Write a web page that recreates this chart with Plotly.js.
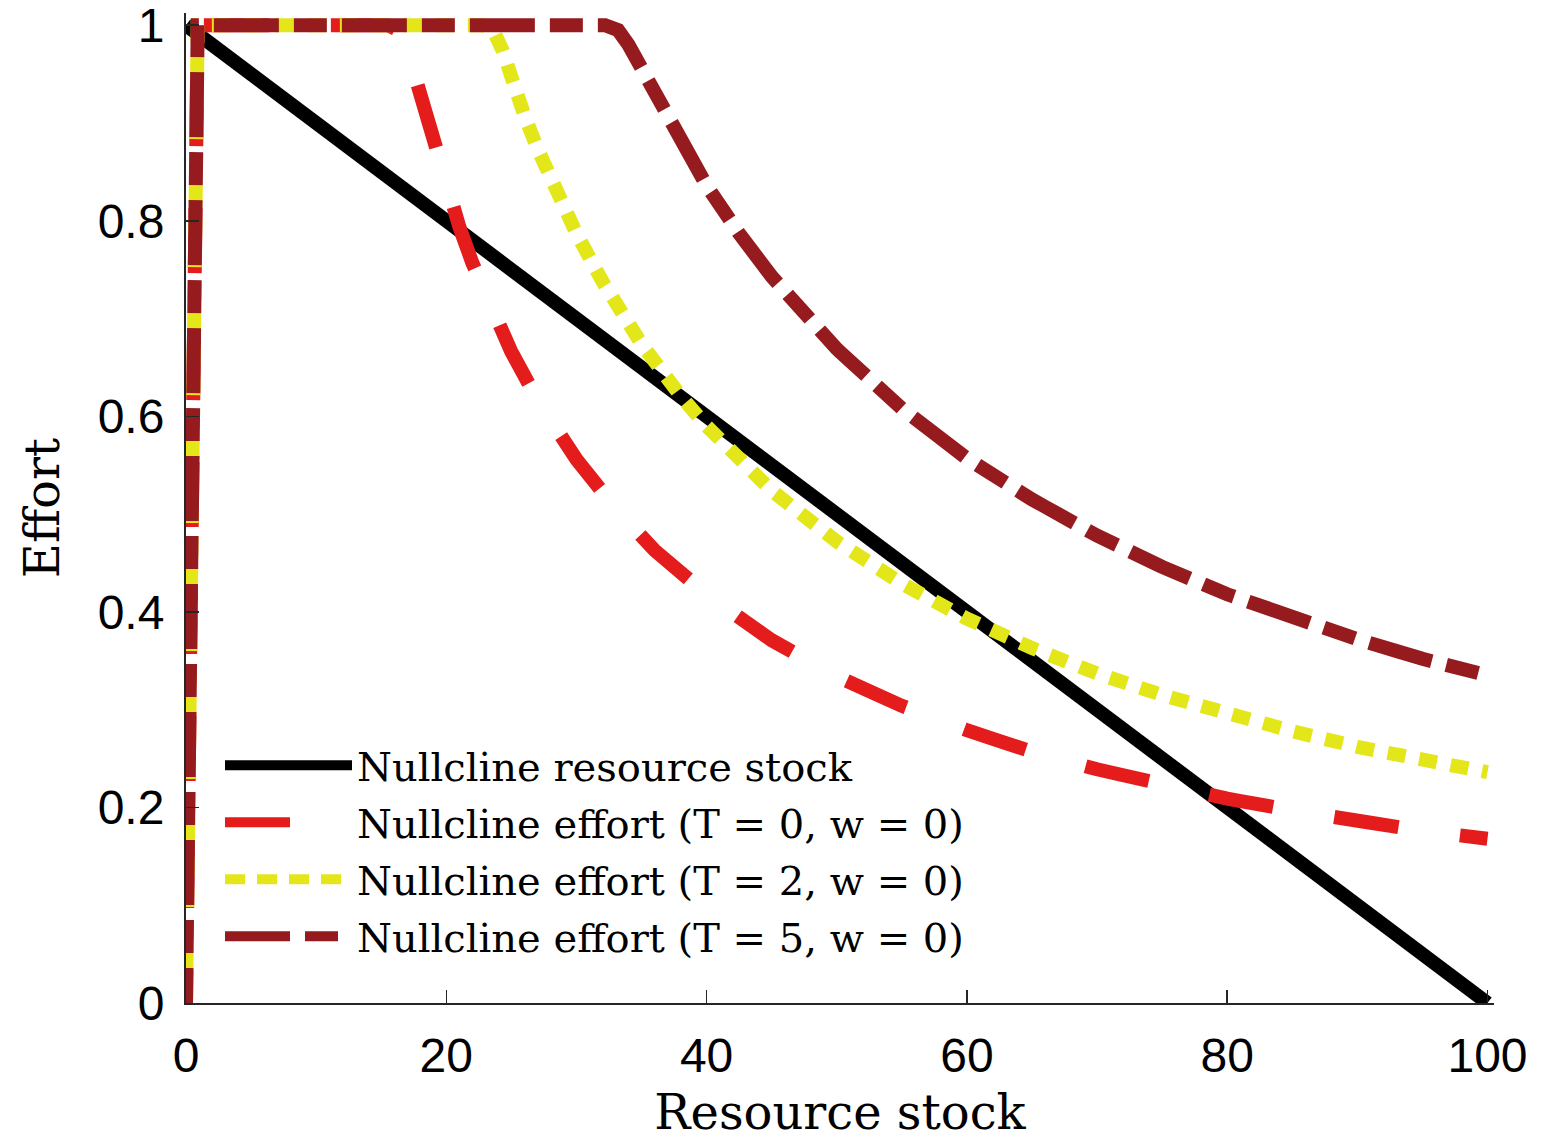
<!DOCTYPE html>
<html>
<head>
<meta charset="utf-8">
<script src="https://cdn.plot.ly/plotly-3.0.1.min.js"></script>
<style>html,body{margin:0;padding:0;background:#fff;}#chart{width:1558px;height:1140px;}</style>
</head>
<body>
<div id="chart"></div>
<script>
// Nullcline resource stock
const stockX = [0, 100];
const stockE = [1, 0];

// Nullcline effort (T = 0, w = 0)
const t0X = [0, 0.9, 15.5, 16.3, 17, 17.5, 18, 19, 20, 21, 22, 23.5, 25, 27, 30, 33, 36, 40, 45, 50, 55, 60, 65, 70, 75, 80, 85, 90, 95, 100];
const t0E = [0, 1, 1, 0.995, 0.975, 0.952, 0.925, 0.877, 0.833, 0.794, 0.757, 0.709, 0.666, 0.617, 0.556, 0.506, 0.463, 0.418, 0.371, 0.334, 0.304, 0.279, 0.257, 0.239, 0.223, 0.209, 0.197, 0.186, 0.176, 0.168];

// Nullcline effort (T = 2, w = 0)
const t2X = [0, 0.9, 22.8, 23.6, 24.3, 25, 26, 27, 28, 30, 32, 35, 38, 40, 45, 50, 55, 60, 65, 70, 75, 80, 85, 90, 95, 100];
const t2E = [0, 1, 1, 0.995, 0.975, 0.945, 0.908, 0.874, 0.843, 0.787, 0.738, 0.674, 0.621, 0.59, 0.524, 0.472, 0.429, 0.393, 0.363, 0.337, 0.315, 0.295, 0.278, 0.262, 0.248, 0.236];

// Nullcline effort (T = 5, w = 0)
const t5X = [0, 0.9, 32.2, 33.2, 34, 35, 36, 37, 38, 40, 42.5, 45, 50, 55, 60, 65, 70, 75, 80, 85, 90, 95, 100];
const t5E = [0, 1, 1, 0.995, 0.98, 0.955, 0.93, 0.905, 0.88, 0.836, 0.787, 0.743, 0.669, 0.608, 0.557, 0.515, 0.478, 0.446, 0.418, 0.394, 0.372, 0.352, 0.335];

const seriesNames = [
  'Nullcline resource stock',
  'Nullcline effort (T = 0, w = 0)',
  'Nullcline effort (T = 2, w = 0)',
  'Nullcline effort (T = 5, w = 0)'
];

const xTicks = [0, 20, 40, 60, 80, 100];
const yTicks = [0, 0.2, 0.4, 0.6, 0.8, 1];
const yTickText = ['0', '0.2', '0.4', '0.6', '0.8', '1'];

const colors = ['#000000', '#e41c1c', '#e3e619', '#951b1f'];
// dash patterns along the curves (phase-shifted) and in the legend samples
const curveDash = ['solid', '33px,62px,32px,0px', '18px,14px', '35px,15px,33px,15px,30px,0px'];
const legendDash = ['solid', '65px,62px', '20px,12px', '65px,15px,33px,15px'];

const xs = [stockX, t0X, t2X, t5X];
const ys = [stockE, t0E, t2E, t5E];

const traces = [];
for (let i = 0; i < 4; i++) {
  traces.push({x: xs[i], y: ys[i], name: seriesNames[i], mode: 'lines', showlegend: false,
    line: {color: colors[i], width: 14, dash: curveDash[i]}});
}
for (let i = 0; i < 4; i++) {
  traces.push({x: [null], y: [null], name: seriesNames[i], mode: 'lines', showlegend: true,
    legendgroup: 'g' + i, line: {color: colors[i], width: 14, dash: legendDash[i]}});
}

const layout = {
  width: 1558, height: 1140,
  margin: {l: 186, r: 64, t: 13, b: 137},
  paper_bgcolor: '#ffffff', plot_bgcolor: '#ffffff',
  showlegend: true,
  legend: {
    x: 0.026, y: 0.273, xanchor: 'left', yanchor: 'top',
    bgcolor: 'rgba(0,0,0,0)', borderwidth: 0,
    itemwidth: 127, tracegroupgap: 2,
    font: {family: 'DejaVu Serif', size: 40, color: '#000'}
  },
  xaxis: {
    range: [0, 100.5], tickvals: xTicks, ticktext: xTicks.map(String),
    ticks: 'inside', ticklen: 13, tickwidth: 1.5, tickcolor: '#262626',
    showline: true, linecolor: '#262626', linewidth: 2, showgrid: false, zeroline: false,
    tickfont: {family: 'Liberation Sans', size: 48, color: '#000'},
    ticklabelstandoff: 9, ticklabeloverflow: 'allow',
    title: {text: 'Resource stock', font: {family: 'DejaVu Serif', size: 48, color: '#000'}, standoff: 22}
  },
  yaxis: {
    range: [0, 1.0125], tickvals: yTicks, ticktext: yTickText,
    ticks: 'inside', ticklen: 13, tickwidth: 1.5, tickcolor: '#262626',
    showline: true, linecolor: '#262626', linewidth: 2, showgrid: false, zeroline: false,
    tickfont: {family: 'Liberation Sans', size: 48, color: '#000'},
    ticklabelstandoff: 10, ticklabeloverflow: 'allow',
    title: {text: 'Effort', font: {family: 'DejaVu Serif', size: 48, color: '#000'}, standoff: 23}
  }
};

Plotly.newPlot('chart', traces, layout, {displayModeBar: false, staticPlot: true});
</script>
</body>
</html>
